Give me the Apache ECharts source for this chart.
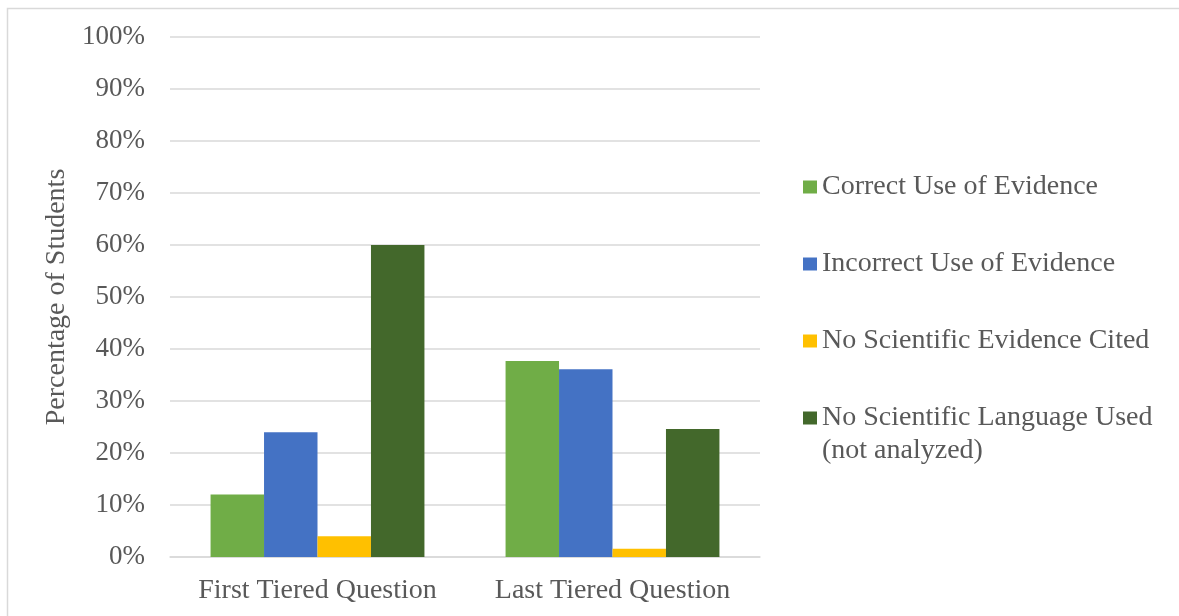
<!DOCTYPE html>
<html>
<head>
<meta charset="utf-8">
<script src="https://cdn.jsdelivr.net/npm/echarts@6/dist/echarts.min.js"></script>
<style>
  html, body { margin: 0; padding: 0; background: #fff; }
  #chart { width: 1179px; height: 616px; }
</style>
</head>
<body>
<div id="chart"></div>
<script>
// categories + series
const categories = ["First Tiered Question", "Last Tiered Question"];
const correctUse = [12, 37.7];
const incorrectUse = [24, 36.1];
const noEvidence = [4, 1.6];
const noLanguage = [60, 24.6];
const seriesNames = [
  "Correct Use of Evidence",
  "Incorrect Use of Evidence",
  "No Scientific Evidence Cited",
  "No Scientific Language Used (not analyzed)"
];
const colors = ["#70ad47", "#4472c4", "#ffc000", "#43682b"];

const textColor = "#595959";
const font = "Liberation Serif";
const fontSize = 28;

let myChart = echarts.init(document.getElementById("chart"));

const seriesData = [correctUse, incorrectUse, noEvidence, noLanguage];

const legendText = {
  fontFamily: font,
  fontSize: fontSize,
  color: textColor,
  lineHeight: 33
};

myChart.setOption({
  animation: false,
  textStyle: { fontFamily: font },
  graphic: [
    {
      type: "rect",
      shape: { x: 7.5, y: 8.5, width: 1400, height: 800 },
      style: { fill: "none", stroke: "#d9d9d9", lineWidth: 1.5 },
      silent: true,
      z: -10
    }
  ],
  grid: {
    left: 170,
    right: 419,
    top: 37,
    bottom: 59
  },
  legend: [
    {
      orient: "vertical",
      left: 803,
      top: 170.5,
      padding: 0,
      itemWidth: 14,
      itemHeight: 13,
      itemGap: 44,
      icon: "rect",
      textStyle: legendText,
      data: seriesNames.slice(0, 3)
    },
    {
      // last item wraps to two lines, marker sits on the first line
      orient: "vertical",
      left: 803,
      top: 368.5,
      padding: 0,
      itemWidth: 14,
      itemHeight: 13,
      icon: "rect",
      textStyle: legendText,
      data: [seriesNames[3]],
      formatter: () => "\nNo Scientific Language Used\n(not analyzed)"
    }
  ],
  xAxis: {
    type: "category",
    data: categories,
    axisLine: { lineStyle: { color: "#d9d9d9", width: 1.5 } },
    axisTick: { show: false },
    axisLabel: {
      interval: 0,
      color: textColor,
      fontFamily: font,
      fontSize: fontSize,
      margin: 20
    }
  },
  yAxis: {
    type: "value",
    min: 0,
    max: 100,
    interval: 10,
    name: "Percentage of Students",
    nameLocation: "middle",
    nameGap: 92,
    nameTextStyle: {
      color: textColor,
      fontFamily: font,
      fontSize: fontSize
    },
    axisLine: { show: false },
    axisTick: { show: false },
    axisLabel: {
      color: textColor,
      fontFamily: font,
      fontSize: 27,
      margin: 25,
      formatter: "{value}%"
    },
    splitLine: { lineStyle: { color: "#d9d9d9", width: 1.5 } }
  },
  series: seriesNames.map((name, i) => ({
    name: name,
    type: "bar",
    data: seriesData[i],
    barGap: "0%",
    barCategoryGap: "27.5%",
    itemStyle: { color: colors[i] }
  }))
});
</script>
</body>
</html>
